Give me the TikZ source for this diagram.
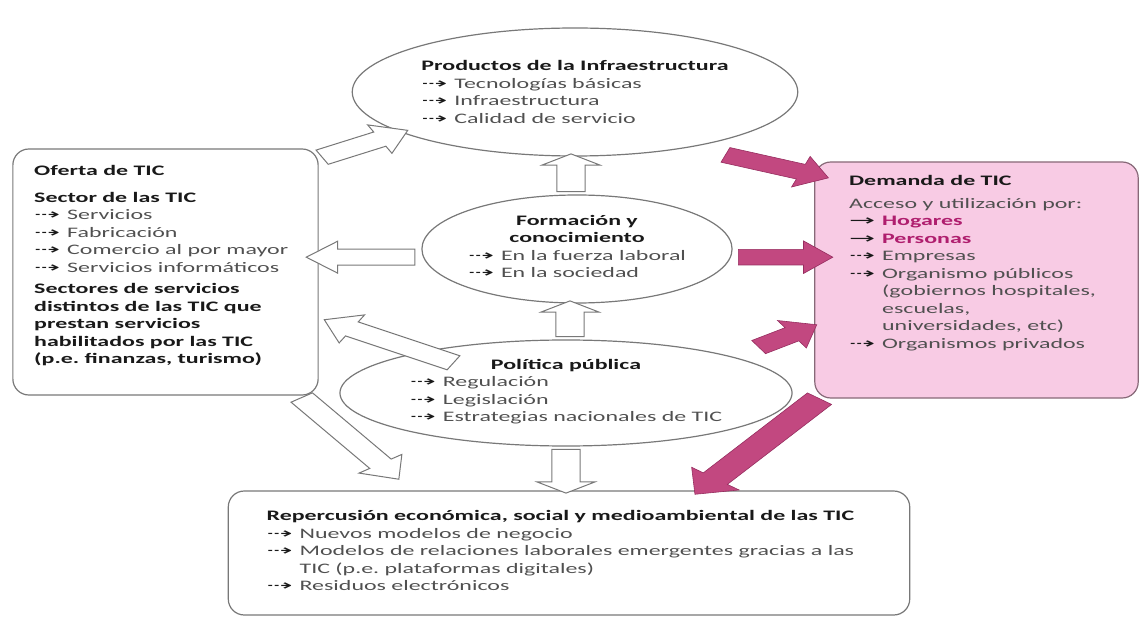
\documentclass[tikz,border=0pt]{standalone}
\usepackage{fontspec}
\usepackage{graphicx}
\setmainfont{Carlito}
\newfontfamily\symf{DejaVu Sans}
\usetikzlibrary{shapes.geometric,shapes.arrows,calc}
\definecolor{edge}{RGB}{120,120,120}
\definecolor{ink}{RGB}{25,25,25}
\definecolor{soft}{RGB}{80,80,80}
\definecolor{blush}{RGB}{248,203,228}
\definecolor{blushedge}{RGB}{135,105,120}
\definecolor{berry}{RGB}{194,72,128}
\definecolor{berryedge}{RGB}{150,45,95}
\definecolor{hot}{RGB}{175,30,110}
\frenchspacing
\newcommand{\heading}[1]{\textcolor{ink}{\textbf{#1}}}
\newcommand{\arr}{\makebox[20pt][l]{\textcolor{ink}{\symf\scalebox{1.3}[1]{⇢}}}}
\newcommand{\arrs}{\makebox[20pt][l]{\textcolor{ink}{\symf\scalebox{1.3}[1]{→}}}}
\newcommand{\blockarrow}[3]{\path let \p1=(#2), \p2=(#3) in
  node[#1, minimum height={veclen((\x2-\x1)/1.65,\y2-\y1)},
    rotate={atan2(\y2-\y1,(\x2-\x1)/1.65)}] at ($(\p1)!.5!(\p2)$) {};}
\begin{document}
\begin{tikzpicture}[x=1pt, y=-1pt, font=\fontsize{14.5}{17.5}\selectfont,
  sx/.style={xscale=1.65},
  bubble/.style={sx, ellipse, draw=edge, line width=1.2pt, inner sep=0pt, align=left, text=soft},
  panel/.style={sx, rectangle, rounded corners=16pt, draw=edge, line width=1.2pt},
  txt/.style={sx, anchor=north west, inner sep=0pt, align=left, text=soft},
  harrow/.style={sx, single arrow, draw=edge, fill=white, line width=1pt, inner xsep=0pt,
    inner ysep=7.5pt, single arrow head extend=8pt, single arrow tip angle=80},
  varrow/.style={harrow, inner ysep=8pt, single arrow head extend=9pt, single arrow tip angle=115},
  parrow/.style={sx, single arrow, draw=berryedge, fill=berry, line width=0.6pt, inner xsep=0pt,
    inner ysep=7.5pt, single arrow head extend=8.5pt, single arrow tip angle=85}]
  \useasboundingbox (0,0) rectangle (1143,617);

  \node[bubble, minimum width=270, minimum height=128] (prod) at (575,92)
    {\heading{Productos de la Infraestructura}\\ \arr Tecnologías básicas\\ \arr Infraestructura\\ \arr Calidad de servicio};
  \node[bubble, align=center, minimum width=188, minimum height=108] (form) at (577,249)
    {\heading{Formación y}\\ \heading{conocimiento}\\
     \begin{tabular}[t]{@{}l@{}}\arr En la fuerza laboral\\ \arr En la sociedad\end{tabular}};
  \node[bubble, align=center, minimum width=274, minimum height=106] (pol) at (566,393)
    {\heading{Política pública}\\
     \begin{tabular}[t]{@{}l@{}}\arr Regulación\\ \arr Legislación\\ \arr Estrategias nacionales de TIC\end{tabular}};

  \node[panel, minimum width=185, minimum height=246] (oferta) at (165.5,272) {};
  \node[panel, fill=blush, draw=blushedge, minimum width=196, minimum height=236] (demanda) at (976.5,280) {};
  \node[panel, minimum width=413, minimum height=124] (rep) at (569,553) {};

  \node[txt] (ofertatxt) at ([shift={(22,17)}]oferta.north west)
    {\heading{Oferta de TIC}\\[9pt]
     \heading{Sector de las TIC}\\ \arr Servicios\\ \arr Fabricación\\ \arr Comercio al por mayor\\ \arr Servicios informáticos\\[4pt]
     \heading{Sectores de servicios}\\ \heading{distintos de las TIC que}\\ \heading{prestan servicios}\\
     \heading{habilitados por las TIC}\\ \heading{(p.e. finanzas, turismo)}};
  \node[txt] (demandatxt) at ([shift={(35,14)}]demanda.north west)
    {\heading{Demanda de TIC}\\[5pt]
     Acceso y utilización por:\\
     \arrs \textcolor{hot}{\textbf{Hogares}}\\ \arrs \textcolor{hot}{\textbf{Personas}}\\
     \arr Empresas\\ \arr Organismo públicos\\ \phantom{\arr}(gobiernos hospitales,\\
     \phantom{\arr}escuelas,\\ \phantom{\arr}universidades, etc)\\ \arr Organismos privados};
  \node[txt] (reptxt) at ([shift={(39,20)}]rep.north west)
    {\heading{Repercusión económica, social y medioambiental de las TIC}\\
     \arr Nuevos modelos de negocio\\ \arr Modelos de relaciones laborales emergentes gracias a las\\
     \phantom{\arr}TIC (p.e. plataformas digitales)\\ \arr Residuos electrónicos};

  \blockarrow{harrow}{[shift={(-4,11)}]oferta.north east}{prod.201}
  \blockarrow{varrow}{[xshift=-6]form.north}{$(form.north |- prod.south)+(-6,0)$}
  \blockarrow{harrow}{form.185}{$(form.185 -| oferta.east)+(-5,0)$}
  \blockarrow{harrow}{[shift={(55,10)}]pol.north west}{[shift={(12,50)}]oferta.east}
  \blockarrow{harrow}{[shift={(-22,-2)}]oferta.south east}{[shift={(167,-15)}]rep.north west}
  \blockarrow{varrow}{[xshift=4]pol.north}{$(pol.north |- form.south)+(4,0)$}
  \blockarrow{varrow}{pol.south}{pol.south |- rep.north}

  \blockarrow{parrow}{[shift={(18,8)}]prod.325}{[shift={(8,15)}]demanda.north west}
  \blockarrow{parrow}{form.355}{$(form.355 -| demanda.west)+(12,0)$}
  \blockarrow{parrow}{[shift={(25,-6)}]pol.21}{[shift={(-3,47)}]demanda.west}
  \blockarrow{parrow, inner ysep=9pt, single arrow head extend=9pt}{[shift={(11,-4)}]demanda.south west}{[xshift=131]rep.north}
\end{tikzpicture}
\end{document}
